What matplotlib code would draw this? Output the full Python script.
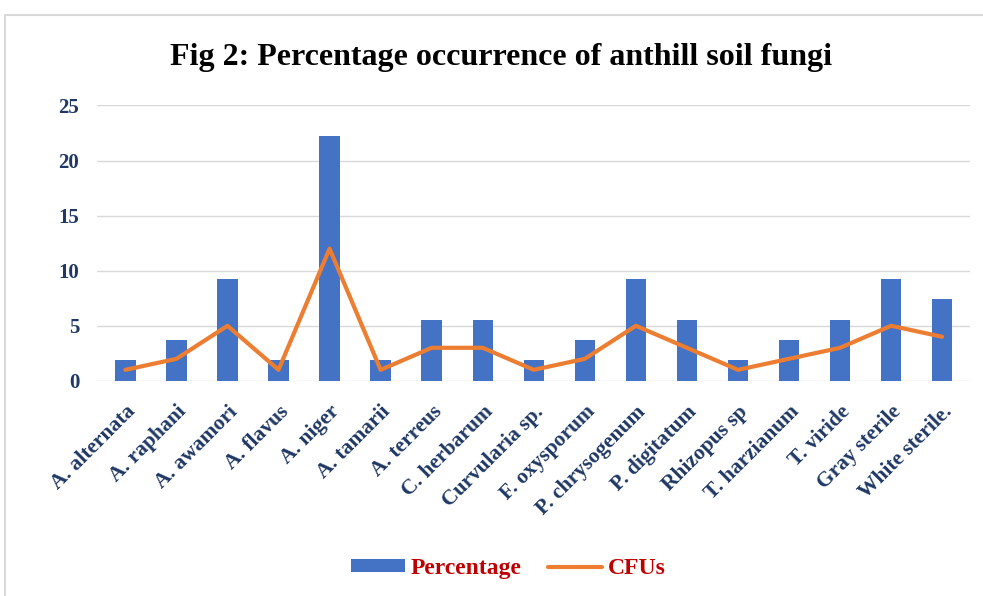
import matplotlib
matplotlib.use('Agg')
import matplotlib.pyplot as plt
from matplotlib.patches import Rectangle
import numpy as np

fungi = ['A. alternata', 'A. raphani', 'A. awamori', 'A. flavus', 'A. niger',
         'A. tamarii', 'A. terreus', 'C. herbarum', 'Curvularia sp.', 'F. oxysporum',
         'P. chrysogenum', 'P. digitatum', 'Rhizopus sp', 'T. harzianum', 'T. viride',
         'Gray sterile', 'White sterile.']
percentage = [1.85, 3.70, 9.26, 1.85, 22.22, 1.85, 5.56, 5.56, 1.85, 3.70,
              9.26, 5.56, 1.85, 3.70, 5.56, 9.26, 7.41]
cfus = [1, 2, 5, 1, 12, 1, 3, 3, 1, 2, 5, 3, 1, 2, 3, 5, 4]

plt.rcParams['font.family'] = 'Liberation Serif'

fig = plt.figure(figsize=(9.83, 5.96), dpi=100)
ax = fig.add_axes([0.099, 0.361, 0.888, 0.462])

x = np.arange(len(fungi))
bars = ax.bar(x, percentage, width=0.4, color='#4472C4', label='Percentage', zorder=2)
line, = ax.plot(x, cfus, color='#ED7D31', lw=3, solid_joinstyle='round',
                solid_capstyle='round', label='CFUs', zorder=3)

ax.set_xlim(-0.55, len(fungi) - 0.45)
ax.set_ylim(0, 25)
ax.set_yticks([0, 5, 10, 15, 20, 25])
ax.grid(axis='y', color='#D9D9D9', lw=1, zorder=0)
for s in ax.spines.values():
    s.set_visible(False)
ax.tick_params(length=0)
ax.tick_params(axis='y', pad=13)
ax.tick_params(axis='x', pad=15)
ax.set_yticklabels([0, 5, 10, 15, 20, 25], fontsize=15, fontweight='bold', color='#1F3864')
ax.set_xticks(x)
ax.set_xticklabels(fungi, rotation=45, ha='right', rotation_mode='anchor',
                   fontsize=15.5, fontweight='bold', color='#1F3864')

fig.text(0.51, 0.903, 'Fig 2: Percentage occurrence of anthill soil fungi',
         ha='center', va='center', fontsize=23, fontweight='bold', color='black')

leg = fig.legend([bars, line], ['Percentage', 'CFUs'], loc='center',
                 bbox_to_anchor=(0.517, 0.046), ncol=2, frameon=False,
                 fontsize=17, handlelength=2.3, handleheight=0.5,
                 columnspacing=1.1, handletextpad=0.25)
for t in leg.get_texts():
    t.set_color('#C00000')
    t.set_fontweight('bold')

fig.patches.append(Rectangle((0.005, -0.01), 1.2, 0.985, transform=fig.transFigure,
                             fill=False, edgecolor='#D9D9D9', lw=1.5))

fig.savefig('out.png', dpi=100)
